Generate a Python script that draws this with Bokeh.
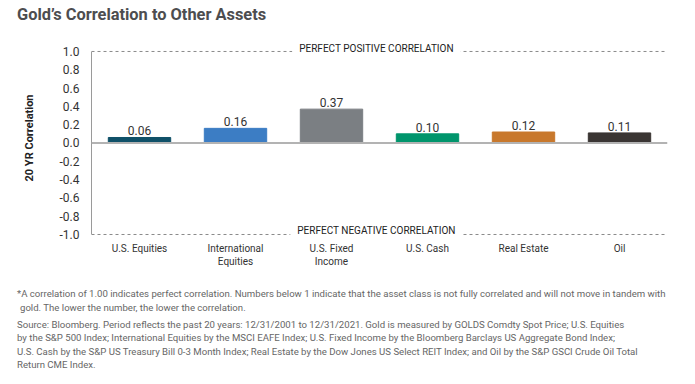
from bokeh.plotting import figure
from bokeh.models import ColumnDataSource, FixedTicker, PrintfTickFormatter, Span, Label, Div
from bokeh.layouts import column
from bokeh.core.properties import value
from bokeh.embed import file_html
from bokeh.resources import INLINE

categories = ["U.S. Equities", "International\nEquities", "U.S. Fixed\nIncome", "U.S. Cash", "Real Estate", "Oil"]
correlations = [0.06, 0.16, 0.37, 0.10, 0.12, 0.11]
colors = ["#0f5068", "#3c7dc4", "#7b7f83", "#00956c", "#c8782c", "#3a3533"]
y_ticks = [-1.0, -0.8, -0.6, -0.4, -0.2, 0.0, 0.2, 0.4, 0.6, 0.8, 1.0]

title_text = "Gold\u2019s Correlation to Other Assets"
banner_top = "PERFECT POSITIVE CORRELATION"
banner_bottom = "PERFECT NEGATIVE CORRELATION"
note_lines = [
    "*A correlation of 1.00 indicates perfect correlation. Numbers below 1 indicate that the asset class is not fully correlated and will not move in tandem with",
    "gold. The lower the number, the lower the correlation.",
]
source_lines = [
    "Source: Bloomberg. Period reflects the past 20 years: 12/31/2001 to 12/31/2021. Gold is measured by GOLDS Comdty Spot Price; U.S. Equities",
    "by the S&amp;P 500 Index; International Equities by the MSCI EAFE Index; U.S. Fixed Income by the Bloomberg Barclays US Aggregate Bond Index;",
    "U.S. Cash by the S&amp;P US Treasury Bill 0-3 Month Index; Real Estate by the Dow Jones US Select REIT Index; and Oil by the S&amp;P GSCI Crude Oil Total",
    "Return CME Index.",
]

FONT = "Roboto"
W = 695
TITLE_H = 40
FIG_H = 230
FOOT_H = 384 - TITLE_H - FIG_H

src = ColumnDataSource(dict(
    cat=categories, val=correlations, color=colors,
    label=["%.2f" % v for v in correlations],
))

p = figure(width=W, height=FIG_H, x_range=categories, y_range=(-1.011, 1.12),
           output_backend="svg", toolbar_location=None,
           min_border_left=91, min_border_right=28, min_border_top=0, min_border_bottom=34)
p.outline_line_color = None
p.background_fill_color = "white"
p.border_fill_color = "white"
p.xgrid.visible = False
p.ygrid.visible = False

p.add_layout(Span(location=0, dimension="width", line_color="#b3b3b3", line_width=2))
p.add_layout(Span(location=1.0, dimension="width", line_color="#8a8a8a", line_width=1, line_dash="3 3"))
p.add_layout(Span(location=-1.0, dimension="width", line_color="#8a8a8a", line_width=1, line_dash="3 3"))

p.vbar(x="cat", top="val", bottom=0, width=0.65, color="color", source=src)
p.text(x="cat", y="val", text="label", source=src, y_offset=-2,
       text_align="center", text_baseline="bottom", text_font=value(FONT),
       text_font_size="12px", text_color="#333333")

p.yaxis.ticker = FixedTicker(ticks=y_ticks)
p.yaxis.bounds = (-1.0, 1.0)
p.yaxis.formatter = PrintfTickFormatter(format="%.1f")
p.yaxis.major_tick_line_color = None
p.yaxis.minor_tick_line_color = None
p.yaxis.axis_line_color = "#9a9a9a"
p.yaxis.major_label_text_font = FONT
p.yaxis.major_label_text_font_size = "12px"
p.yaxis.major_label_text_color = "#333333"
p.yaxis.major_label_standoff = 6
p.yaxis.axis_label = "20 YR Correlation"
p.yaxis.axis_label_text_font = FONT
p.yaxis.axis_label_text_font_style = "bold"
p.yaxis.axis_label_text_font_size = "11px"
p.yaxis.axis_label_text_color = "#222222"
p.yaxis.axis_label_standoff = 21

p.xaxis.axis_line_color = None
p.xaxis.major_tick_line_color = None
p.xaxis.minor_tick_line_color = None
p.xaxis.major_label_text_font = FONT
p.xaxis.major_label_text_font_size = "10px"
p.xaxis.major_label_text_color = "#333333"
p.xaxis.major_label_text_line_height = 1.25
p.xaxis.major_label_standoff = 1

# banner texts breaking the dashed reference lines
for txt, yv in [(banner_top, 1.038), (banner_bottom, -0.958)]:
    p.add_layout(Label(x=285, y=yv, x_units="screen", y_units="data", text=txt,
                       text_align="center", text_baseline="middle",
                       text_font=FONT, text_font_size="10px", text_color="#222222",
                       background_fill_color="white", padding=7))

title_div = Div(
    text=('<div style="font-family:Roboto,sans-serif;font-weight:bold;font-size:16.4px;'
          'line-height:20px;color:#4d4d4f;padding:5px 0 0 17px;white-space:nowrap;">'
          + title_text + '</div>'),
    width=W, height=TITLE_H, margin=0)

note_html = "<br>".join(note_lines)
source_html = "<br>".join(source_lines)
foot_div = Div(
    text=('<div style="font-family:Roboto,sans-serif;font-size:9.6px;line-height:13.5px;color:#666666;'
          'padding:17px 0 0 17px;white-space:nowrap;">'
          '<div style="padding-left:3px;text-indent:-3px;">' + note_html + '</div>'
          '<div style="margin-top:3.5px;">' + source_html + '</div></div>'),
    width=W, height=FOOT_H, margin=0)

layout = column(title_div, p, foot_div, spacing=0)

open("out.html", "w").write(file_html(layout, INLINE))
